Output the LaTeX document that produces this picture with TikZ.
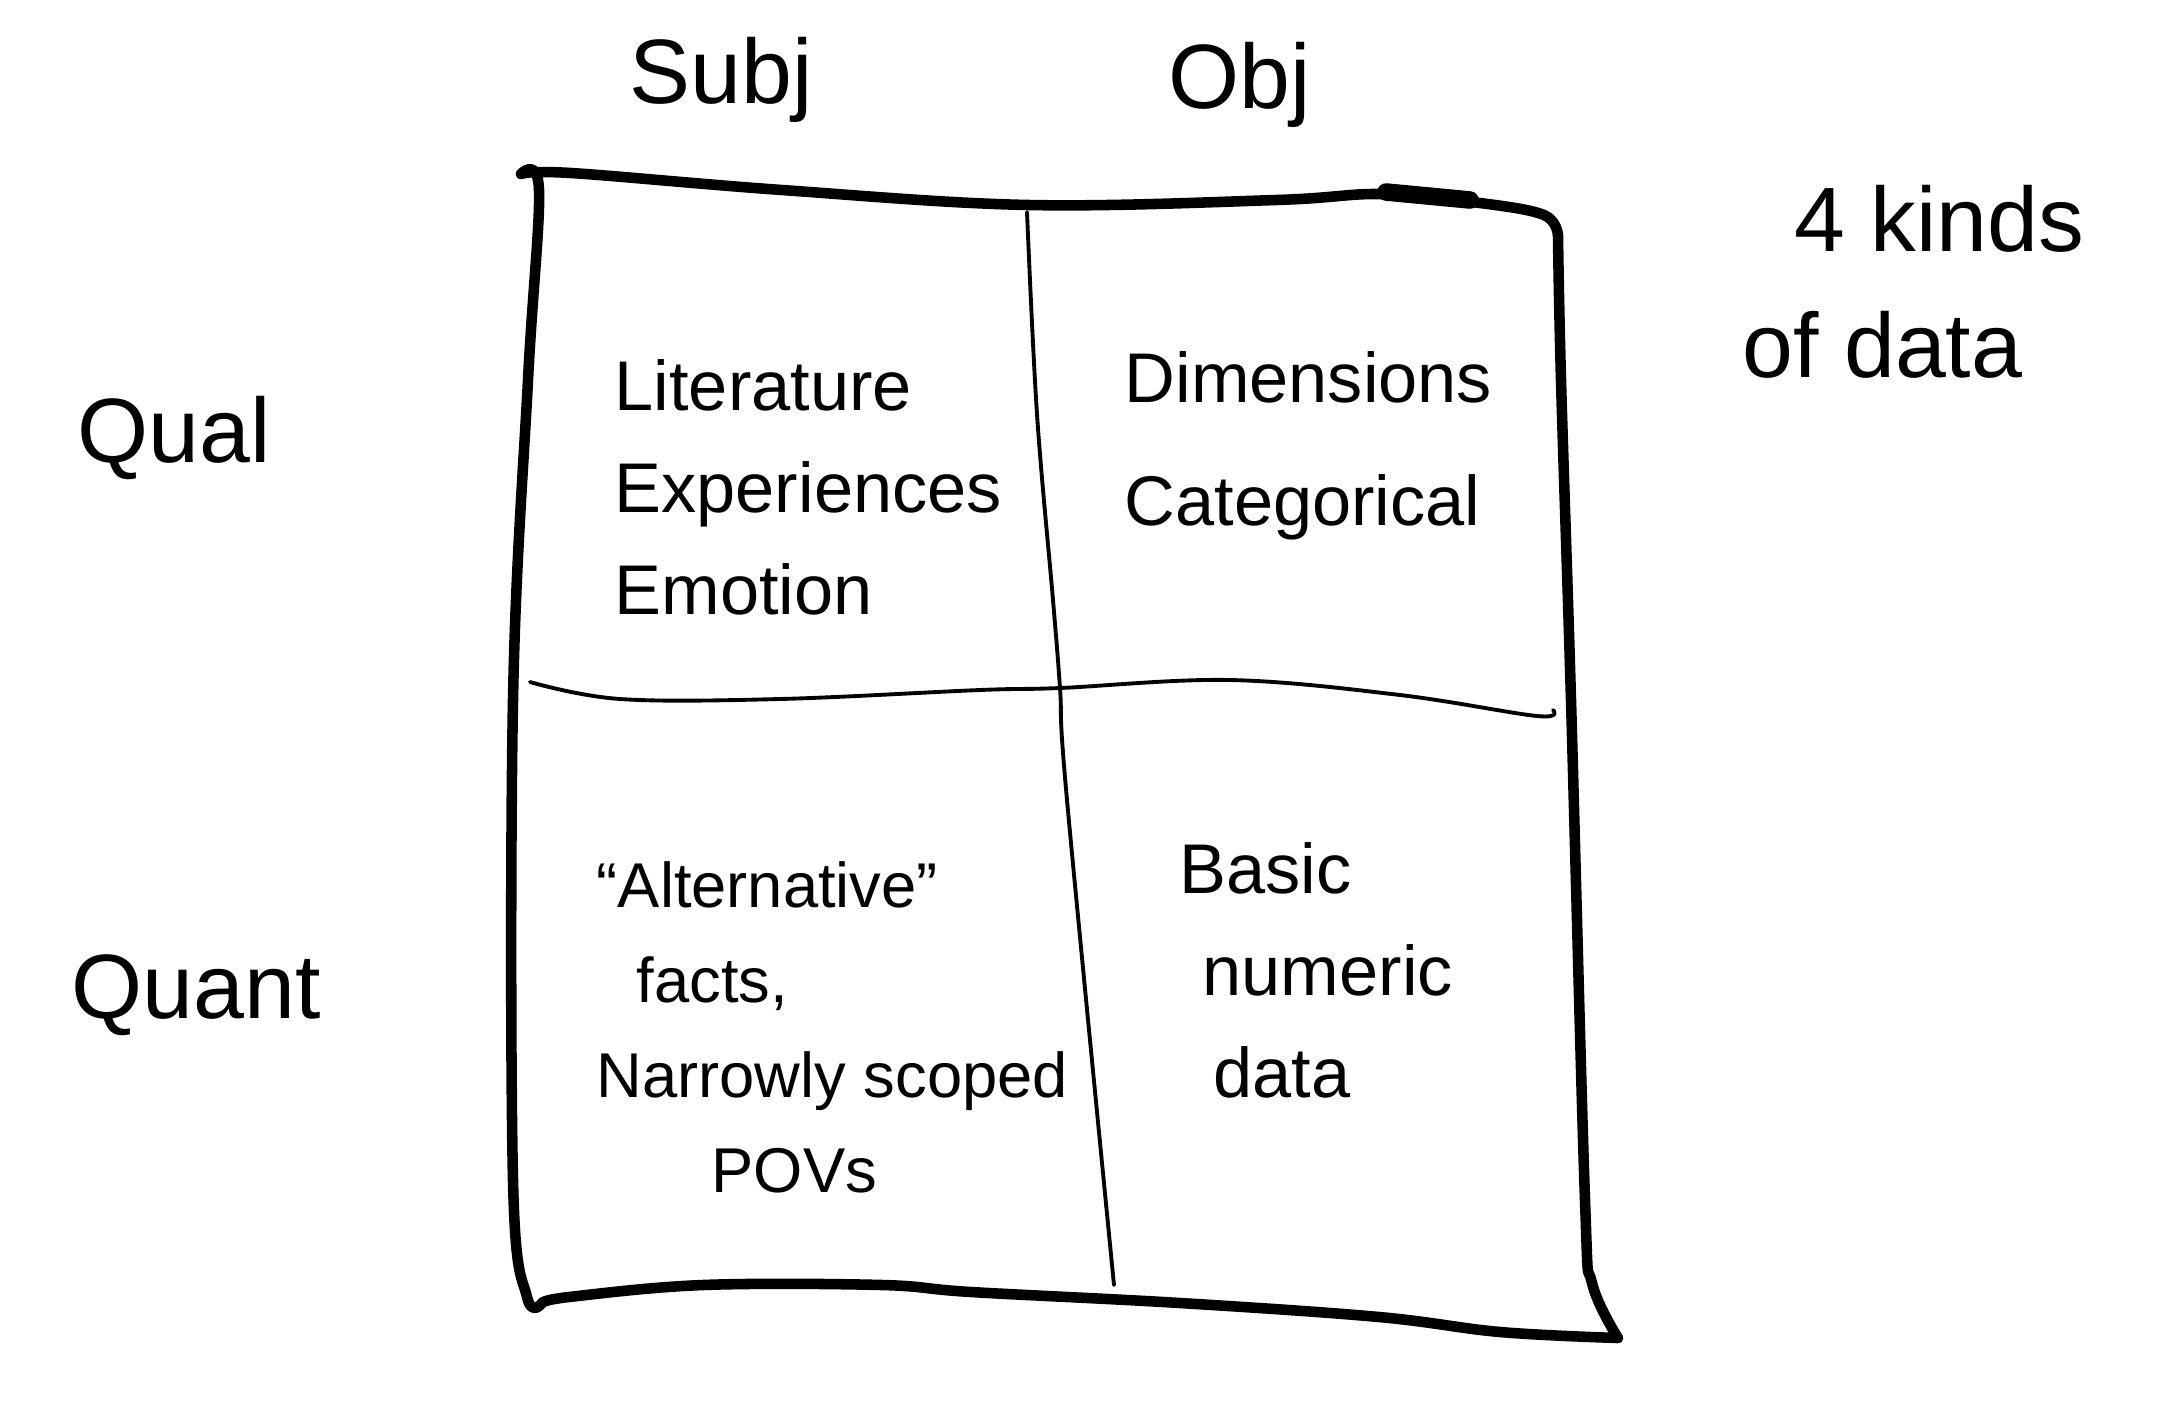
\documentclass[tikz,border=0pt]{standalone}
\usepackage{fontspec}
\setmainfont{Liberation Sans}
\usepackage{tikz}
\tikzset{
  frame/.style={line width=3pt, line cap=round, line join=round, black},
  divider/.style={line width=1.1pt, line cap=round, line join=round, black},
  axislabel/.style={inner sep=0pt, font=\fontsize{26}{36}\selectfont},
  cell/.style={inner sep=0pt, align=left, anchor=west,
    font=\fontsize{20}{29}\selectfont},
}
\begin{document}
\begin{tikzpicture}[x=0.01cm, y=-0.01cm]
  \useasboundingbox (0,0) rectangle (2162,1402);

  % outer box, drawn by hand side by side
  \draw[frame] plot[smooth, tension=0.6] coordinates
    {(521,174) (571,173) (782,190) (1029,205) (1276,200) (1381,194) (1480,203) (1544,215) (1558,235)};
  \draw[line width=5pt, line cap=round] (1386,192) -- (1470,200);
  \draw[frame] plot[smooth, tension=0.6] coordinates
    {(1558,235) (1561,380) (1571,700) (1585,1200) (1592,1283) (1618,1338)};
  \draw[frame] plot[smooth, tension=0.6] coordinates
    {(1618,1338) (1500,1332) (1379,1317) (1180,1303) (971,1292) (882,1285) (703,1285) (569,1297) (542,1303)};
  \draw[frame] plot[smooth, tension=0.6] coordinates
    {(542,1303) (527,1297) (513,1180) (513,700) (528,380) (539,190) (521,174)};

  % the two dividers
  \draw[divider] plot[smooth, tension=0.6] coordinates
    {(1027,212) (1037,414) (1053,600) (1060,688) (1067,800) (1114,1285)};
  \draw[divider] plot[smooth, tension=0.6] coordinates
    {(530,682) (620,699) (780,699) (980,690) (1060,688) (1230,680) (1400,695) (1537,716) (1553,710)};

  % axis labels
  \node[axislabel, anchor=base] (subj) at (721,103) {Subj};
  \node[axislabel, anchor=base] (obj)  at (1240,108) {Obj};
  \node[axislabel, anchor=base] (qual) at (174,462) {Qual};
  \node[axislabel, anchor=base] (quant) at (196,1018) {Quant};
  \node[axislabel, align=left, anchor=west] (kinds) at (1742,282)
    {\hspace*{0.52cm}4 kinds\\of data};

  % the four quadrants
  \node[cell] (qualsubj) at (614,487)
    {Literature\\Experiences\\Emotion};
  \node[cell, font=\fontsize{20}{35}\selectfont] (qualobj) at (1124,446)
    {Dimensions\\Categorical};
  \node[cell, font=\fontsize{18}{27}\selectfont] (quantsubj) at (596,1027)
    {``Alternative''\\\hspace*{0.4cm}facts,\\Narrowly scoped\\\hspace*{1.15cm}POVs};
  \node[cell] (quantobj) at (1179,970)
    {Basic\\\hspace*{0.23cm}numeric\\\hspace*{0.34cm}data};

\end{tikzpicture}
\end{document}
